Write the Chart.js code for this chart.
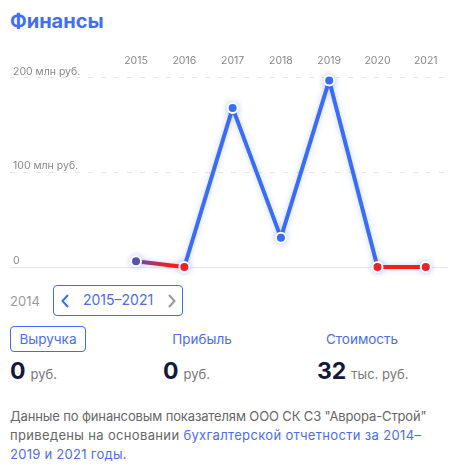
<!DOCTYPE html>
<html lang="ru">
<head>
<meta charset="utf-8">
<title>Финансы</title>
<script src="https://cdn.jsdelivr.net/npm/chart.js@4"></script>
<style>
    html, body { margin: 0; padding: 0; background: #fff; }
    body { width: 458px; height: 471px; position: relative; overflow: hidden; font-family: Inter, Roboto, sans-serif; color: #666; }
    .abs { position: absolute; white-space: nowrap; }
    #financeChart { position: absolute; left: 0; top: 0; }
    .title { left: 10px; top: 9px; font-size: 20px; line-height: 24px; font-weight: 700; color: #3f6ff5; }
    .blue { color: #4a6cf7; }
    .years { left: 53px; top: 285px; width: 128px; height: 29px; border: 1px solid #3a6cf5; border-radius: 4px; }
    .tab { font-size: 13.5px; line-height: 18px; transform: translateX(-50%); }
    .num { font-size: 23px; line-height: 30px; font-weight: 700; color: #14183a; }
    .num span { font-size: 13px; font-weight: 400; color: #777; margin-left: 5px; }
    .note { left: 10px; top: 407px; font-size: 13px; line-height: 19px; }
    .note a { color: #4a6cf7; text-decoration: none; }
</style>
</head>
<body>
<div class="abs title">Финансы</div>
<canvas id="financeChart" width="458" height="280"></canvas>

<div class="abs" style="left:10px;top:292px;font-size:13px;line-height:18px;color:#999">2014</div>
<div class="abs years"></div>
<svg class="abs" style="left:60px;top:293px" width="10" height="16" viewBox="0 0 10 16"><path d="M8 2 L2.5 8 L8 14" fill="none" stroke="#3a6cf5" stroke-width="2"/></svg>
<div class="abs blue" style="left:83px;top:291px;font-size:14px;line-height:18px">2015–2021</div>
<svg class="abs" style="left:167px;top:293px" width="10" height="16" viewBox="0 0 10 16"><path d="M2 2 L7.5 8 L2 14" fill="none" stroke="#999" stroke-width="2"/></svg>

<div class="abs" style="left:10px;top:326px;width:74px;height:24px;border:1px solid #3a6cf5;border-radius:4px"></div>
<div class="abs blue tab" style="left:48px;top:330px">Выручка</div>
<div class="abs blue tab" style="left:202px;top:330px">Прибыль</div>
<div class="abs blue tab" style="left:362px;top:330px">Стоимость</div>

<div class="abs num" style="left:10px;top:356px">0<span>руб.</span></div>
<div class="abs num" style="left:163px;top:356px">0<span>руб.</span></div>
<div class="abs num" style="left:317px;top:356px">32<span>тыс. руб.</span></div>

<div class="abs note">
    <div style="letter-spacing:-0.13px">Данные по финансовым показателям ООО СК СЗ "Аврора-Строй"</div>
    <div style="letter-spacing:0.34px">приведены на основании <a href="#">бухгалтерской отчетности за 2014–</a></div>
    <div style="letter-spacing:0.27px"><a href="#">2019 и 2021 годы</a>.</div>
</div>

<script>
const years = [2015, 2016, 2017, 2018, 2019, 2020, 2021];
const revenue = [6, 0, 168, 31, 197, 0, 0];
const yTicks = [0, 100, 200];

const blue = '#3a6cf5';
const red = '#ff1a14';

// points with zero revenue are red, the first one is in between
const pointColors = ['#5a4fb0', red, blue, blue, blue, red, red];

// soft glow under the line
const glowPlugin = {
    id: 'glow',
    beforeDatasetDraw(chart) {
        chart.ctx.save();
        chart.ctx.shadowColor = 'rgba(58, 108, 245, 0.3)';
        chart.ctx.shadowBlur = 6;
    },
    afterDatasetDraw(chart) {
        chart.ctx.restore();
    }
};

// blue stays blue almost up to the red point, only the first segment fades slowly
function segmentColor(ctx) {
    const from = pointColors[ctx.p0DataIndex];
    const to = pointColors[ctx.p1DataIndex];
    if (from === to) {
        return from;
    }
    const gradient = ctx.chart.ctx.createLinearGradient(ctx.p0.x, ctx.p0.y, ctx.p1.x, ctx.p1.y);
    if (from === red) {
        gradient.addColorStop(0, blue);
        gradient.addColorStop(1, blue);
    } else if (from === blue) {
        gradient.addColorStop(0.95, blue);
        gradient.addColorStop(1, red);
    } else {
        gradient.addColorStop(0, from);
        gradient.addColorStop(0.7, to);
    }
    return gradient;
}

new Chart(document.getElementById('financeChart'), {
    type: 'line',
    data: {
        datasets: [{
            label: 'Выручка',
            data: years.map((year, index) => ({ x: year, y: revenue[index] })),
            borderColor: blue,
            borderWidth: 4,
            tension: 0,
            clip: false,
            segment: { borderColor: segmentColor },
            pointRadius: 5,
            pointBorderWidth: 2,
            pointBorderColor: '#fff',
            pointBackgroundColor: pointColors
        }]
    },
    plugins: [glowPlugin],
    options: {
        responsive: false,
        animation: false,
        layout: { padding: { left: 10, right: 10, top: 0, bottom: 13 } },
        plugins: { legend: { display: false }, tooltip: { enabled: false } },
        scales: {
            x: {
                type: 'linear',
                position: 'top',
                min: 2012.39,
                max: 2021.46,
                afterBuildTicks: scale => { scale.ticks = years.map(year => ({ value: year })); },
                afterFit: scale => { scale.height = 70; },
                grid: { display: false, tickLength: 0 },
                border: { display: false },
                ticks: {
                    autoSkip: false,
                    maxRotation: 0,
                    padding: 3,
                    color: '#888',
                    font: { family: 'Inter', size: 10.5 },
                    callback: value => String(value)
                }
            },
            y: {
                min: 0,
                max: 208,
                afterBuildTicks: scale => { scale.ticks = yTicks.map(value => ({ value: value })); },
                afterFit: scale => { scale.width = 0; },
                grid: {
                    drawTicks: false,
                    tickLength: 0,
                    color: '#e6e6e6'
                },
                border: {
                    display: false,
                    dash: ctx => (ctx.tick && ctx.tick.value === 0 ? [] : [5, 8])
                },
                ticks: {
                    mirror: true,
                    padding: 3,
                    labelOffset: -6,
                    color: '#888',
                    font: { family: 'Inter', size: 10.5 },
                    callback: value => (value === 0 ? '0' : value + ' млн руб.')
                }
            }
        }
    }
});
</script>
</body>
</html>
